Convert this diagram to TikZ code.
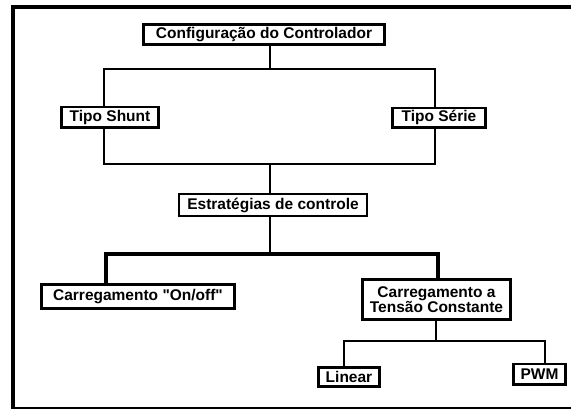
\documentclass[tikz,border=0pt]{standalone}
\usepackage{fontspec}
\setmainfont{Liberation Sans}
\tikzset{
  caixa/.style={draw, line width=2.6pt, fill=white, inner sep=0pt, align=center,
    font=\fontsize{15.5}{15}\selectfont\bfseries},
  fina/.style={line width=1.8pt},
  grossa/.style={line width=3.4pt},
}
\begin{document}
\begin{tikzpicture}[x=1pt,y=-1pt]
  \useasboundingbox (0,0) rectangle (571,410);
  % moldura
  \draw[line width=4pt] (13,408) -- (13,7) -- (571,7);
  \draw[line width=1.5pt] (11,408) -- (571,408);
  % caixas
  \node[caixa, minimum width=241.4, minimum height=20.4] (cfg) at (264,34.5) {Configuração do Controlador};
  \node[caixa, minimum width=97.4, minimum height=20.4] (shunt) at (110,117) {Tipo Shunt};
  \node[caixa, minimum width=93.4, minimum height=19.4] (serie) at (439,117.5) {Tipo Série};
  \node[caixa, line width=1.8pt, minimum width=188, minimum height=22] (estr) at (273,205) {Estratégias de controle};
  \node[caixa, minimum width=193.4, minimum height=24.4] (onoff) at (138,296.5) {Carregamento \textquotedbl On/off\textquotedbl};
  \node[caixa, minimum width=148.4, minimum height=40.4] (tensao) at (436.5,299.5) {Carregamento a\\Tensão Constante};
  \node[caixa, minimum width=61.4, minimum height=19.4] (linear) at (349,377) {Linear};
  \node[caixa, minimum width=52.4, minimum height=20.4] (pwm) at (539.5,374) {PWM};
  % pontos de ligacao
  \coordinate (j1) at (270,69);  \coordinate (j1e) at (104,69);  \coordinate (j1d) at (435,69);
  \coordinate (j2) at (270,164); \coordinate (j2e) at (104,164); \coordinate (j2d) at (435,164);
  \coordinate (j3) at (270,254); \coordinate (j3e) at (106,254); \coordinate (j3d) at (438,254);
  \coordinate (j4) at (436,341); \coordinate (j4e) at (344,341); \coordinate (j4d) at (545,341);
  % ligacoes
  \draw[fina] (cfg.south -| j1) -- (j1);
  \draw[fina] (shunt.north -| j1e) -- (j1e) -- (j1d) -- (serie.north -| j1d);
  \draw[fina] (shunt.south -| j2e) -- (j2e) -- (j2d) -- (serie.south -| j2d);
  \draw[fina] (j2) -- (estr.north -| j2);
  \draw[fina] (estr.south -| j3) -- (j3);
  \draw[grossa] (onoff.north -| j3e) -- (j3e) -- (j3d) -- (tensao.north -| j3d);
  \draw[fina] (tensao.south -| j4) -- (j4);
  \draw[fina] (linear.north -| j4e) -- (j4e) -- (j4d) -- (pwm.north -| j4d);
\end{tikzpicture}
\end{document}
